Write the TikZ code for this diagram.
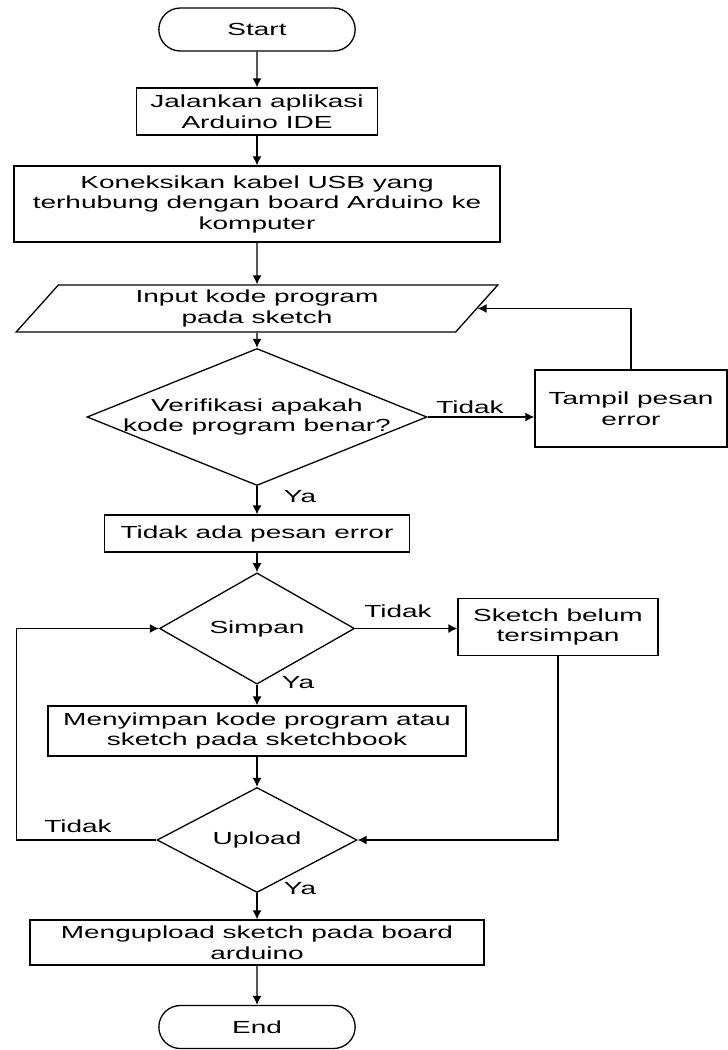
\documentclass[tikz,border=0pt]{standalone}
\usepackage{fontspec}
\setmainfont[FakeStretch=1.6]{Liberation Sans}
\usetikzlibrary{arrows.meta,shapes.geometric,shapes.misc}

\begin{document}
\begin{tikzpicture}[x=1pt, y=-1pt, line width=1.3pt,
        every node/.style={font=\fontsize{17.5}{20.5}\selectfont},
        proses/.style={rectangle, draw, align=center, inner sep=0pt},
        ujung/.style={rounded rectangle, draw, minimum width=203, minimum height=43},
        keputusan/.style={diamond, draw, inner sep=0pt},
        masukan/.style={trapezium, trapezium left angle=55, trapezium right angle=125,
            trapezium stretches=true, draw, align=center, inner sep=0pt},
        panah/.style={-{Latex[length=9pt,width=9pt]}}]

    \useasboundingbox (0,0) rectangle (728,1050);

    \node[ujung] (start) at (257,29.5) {Start};
    \node[proses, minimum width=241, minimum height=47] (jalan) at (257,111.5) {Jalankan aplikasi\\Arduino IDE};
    \node[proses, minimum width=486, minimum height=76] (koneksi) at (257,204) {Koneksikan kabel USB yang\\terhubung dengan board Arduino ke\\komputer};
    \node[masukan, minimum width=483, minimum height=47] (input) at (257,308.5) {Input kode program\\pada sketch};
    \node[keputusan, minimum width=340, minimum height=137,
        label={[align=center]center:Verifikasi apakah\\kode program benar?}] (verif) at (257,417) {};
    \node[proses, minimum width=192, minimum height=77] (tampil) at (631,408.5) {Tampil pesan\\error};
    \node[proses, minimum width=305, minimum height=37] (tidakada) at (257,533.5) {Tidak ada pesan error};
    \node[keputusan, minimum width=195, minimum height=67] (simpan) at (257,628.5) {Simpan};
    \node[proses, minimum width=200, minimum height=57] (belum) at (558,627) {Sketch belum\\tersimpan};
    \node[proses, minimum width=418, minimum height=50] (menyimpan) at (257,731) {Menyimpan kode program atau\\sketch pada sketchbook};
    \node[keputusan, minimum width=200, minimum height=72] (upload) at (257,840) {Upload};
    \node[proses, minimum width=454, minimum height=45] (mengupload) at (257,942.5) {Mengupload sketch pada board\\arduino};
    \node[ujung] (end) at (257,1027) {End};

    % label cabang
    \node (tidak1) at (470,407) {Tidak};
    \node (ya1) at (300,497) {Ya};
    \node (tidak2) at (398,611) {Tidak};
    \node (ya2) at (298,683) {Ya};
    \node (tidak3) at (78,826) {Tidak};
    \node (ya3) at (300,889) {Ya};

    \draw[panah] (start) -- (jalan);
    \draw[panah] (jalan) -- (koneksi);
    \draw[panah] (koneksi) -- (input);
    \draw[panah] (input) -- (verif);
    \draw[panah] (verif.east) -- (verif.east -| tampil.west);
    \draw[panah] (tampil.north) |- (input.east);
    \draw[panah] (verif) -- (tidakada);
    \draw[panah] (tidakada) -- (simpan);
    \draw[panah] (simpan.east) -- (simpan.east -| belum.west);
    \draw[panah] (simpan) -- (menyimpan);
    \draw[panah] (menyimpan) -- (upload);
    \draw[panah] (belum.south) |- (upload.east);
    \draw[panah] (upload.west) -- ++(-140,0) |- (simpan.west);
    \draw[panah] (upload) -- (mengupload);
    \draw[panah] (mengupload) -- (end);

\end{tikzpicture}
\end{document}
